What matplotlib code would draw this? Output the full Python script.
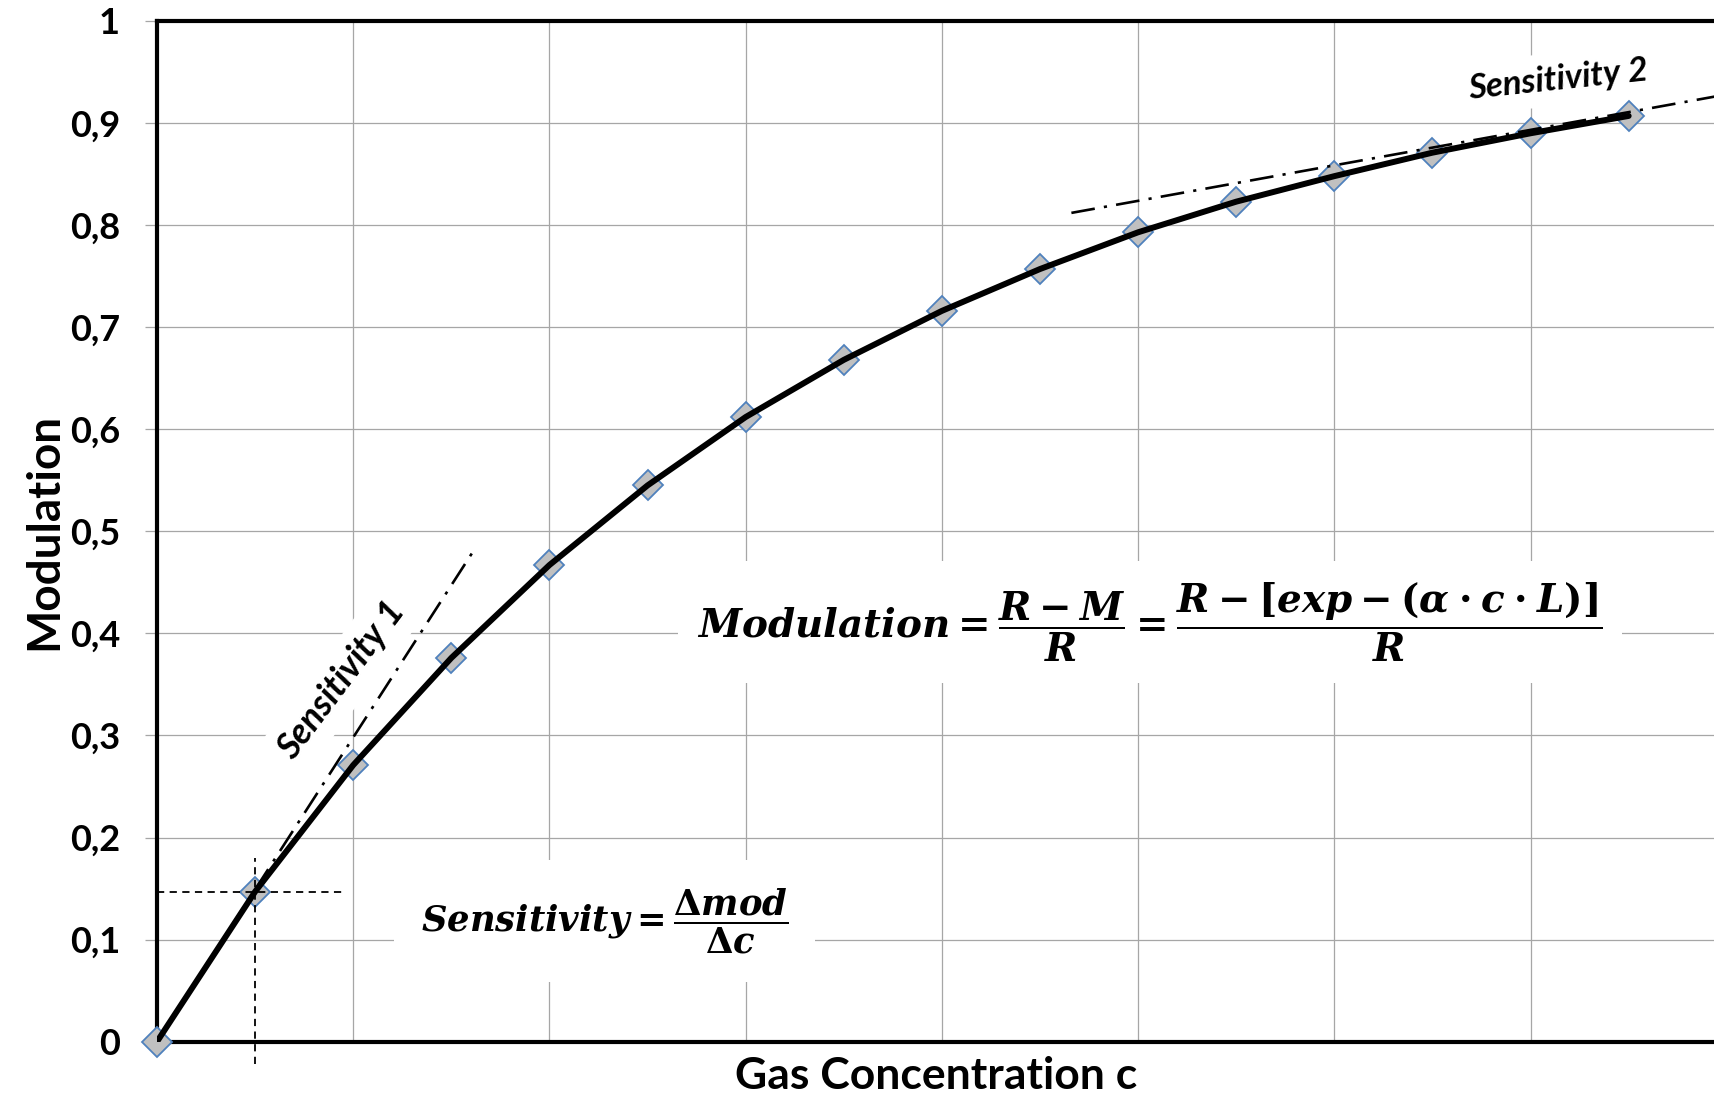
import matplotlib.pyplot as plt
import numpy as np

# measured modulation vs. gas concentration
conc = [0.0, 0.5, 1.0, 1.5, 2.0, 2.5, 3.0, 3.5, 4.0, 4.5, 5.0, 5.5, 6.0, 6.5, 7.0, 7.5]
modulation = [0.0, 0.147, 0.271, 0.376, 0.467, 0.545, 0.612, 0.668, 0.716, 0.757,
              0.793, 0.823, 0.848, 0.871, 0.890, 0.907]

y_ticks = [0.0, 0.1, 0.2, 0.3, 0.4, 0.5, 0.6, 0.7, 0.8, 0.9, 1.0]
y_tick_labels = ['0', '0,1', '0,2', '0,3', '0,4', '0,5', '0,6', '0,7', '0,8', '0,9', '1']
x_grid = [1, 2, 3, 4, 5, 6, 7]

# tangent lines (low and high concentration sensitivity)
tangent1_c = [0.0, 1.61]
tangent1_mod = [0.0, 0.48]
tangent2_c = [4.66, 7.94]
tangent2_mod = [0.812, 0.926]

plt.rcParams.update({
    'font.family': ['Lato', 'DejaVu Sans'],
    'mathtext.fontset': 'custom',
    'mathtext.rm': 'DejaVu Serif:bold',
    'mathtext.it': 'DejaVu Serif:italic:bold',
    'mathtext.bf': 'DejaVu Serif:bold',
})

fig = plt.figure(figsize=(17.15, 10.95), dpi=100)
ax = fig.add_axes([157 / 1715, 53.3 / 1095, 1 - 157 / 1715, 1 - 74.3 / 1095])
ax.set_xlim(0, 7.94)
ax.set_ylim(0, 1)

ax.set_xticks(x_grid)
ax.set_yticks(y_ticks)
ax.set_yticklabels(y_tick_labels, fontsize=26, fontweight='bold')
ax.tick_params(axis='x', length=0, labelbottom=False)
ax.tick_params(axis='y', direction='out', length=8.6, width=0.9, color='#a6a6a6', pad=18)
ax.grid(True, color='#a6a6a6', linewidth=0.9)
ax.set_axisbelow(True)

for side in ['left', 'bottom', 'top']:
    ax.spines[side].set_linewidth(3)
ax.spines['right'].set_visible(False)

ax.set_ylabel('Modulation', fontsize=33, fontweight='bold', labelpad=3)
ax.set_xlabel('Gas Concentration c', fontsize=32, fontweight='bold', labelpad=10)

# data points and fitted curve
ax.plot(conc, modulation, linestyle='none', marker='D', markersize=15,
        markerfacecolor='#c0c0c0', markeredgecolor='#4f81bd', markeredgewidth=1.3,
        zorder=3, clip_on=False)
ax.plot(conc, modulation, color='black', linewidth=4.3, zorder=4, solid_capstyle='round')

# tangents
ax.plot(tangent1_c, tangent1_mod, color='black', linewidth=1.9,
        dashes=(9, 3.5, 1.2, 3.5), zorder=5)
ax.plot(tangent2_c, tangent2_mod, color='black', linewidth=1.9,
        dashes=(9, 3.5, 1.2, 3.5), zorder=5, clip_on=False)

# crosshair at the first measurement
ax.plot([0, 0.95], [modulation[1], modulation[1]], color='black', linewidth=1.3,
        dashes=(4, 3), zorder=5)
ax.plot([conc[1], conc[1]], [-0.022, 0.18], color='black', linewidth=1.3,
        dashes=(4, 3), zorder=5, clip_on=False)

box = dict(facecolor='white', edgecolor='none', boxstyle='square,pad=0.3')
ax.text(0.94, 0.354, 'Sensitivity 1', fontsize=26, fontweight='bold', fontstyle='italic',
        rotation=53, ha='center', va='center', bbox=box, zorder=2)
ax.text(7.14, 0.943, 'Sensitivity 2', fontsize=25, fontweight='bold', fontstyle='italic',
        rotation=6, ha='center', va='center', bbox=box, zorder=2)

ax.text(2.28, 0.118, r'$Sensitivity = \dfrac{\Delta mod}{\Delta c}$', fontsize=25.5,
        ha='center', va='center', zorder=2,
        bbox=dict(facecolor='white', edgecolor='none', boxstyle='square,pad=0.75'))
ax.text(5.06, 0.411,
        r'$Modulation = \dfrac{R - M}{R} = \dfrac{R - [exp - (\alpha \cdot c \cdot L)]}{R}$',
        fontsize=28, ha='center', va='center', zorder=2,
        bbox=dict(facecolor='white', edgecolor='none', boxstyle='square,pad=0.5'))

fig.savefig('out.png', dpi=100)
